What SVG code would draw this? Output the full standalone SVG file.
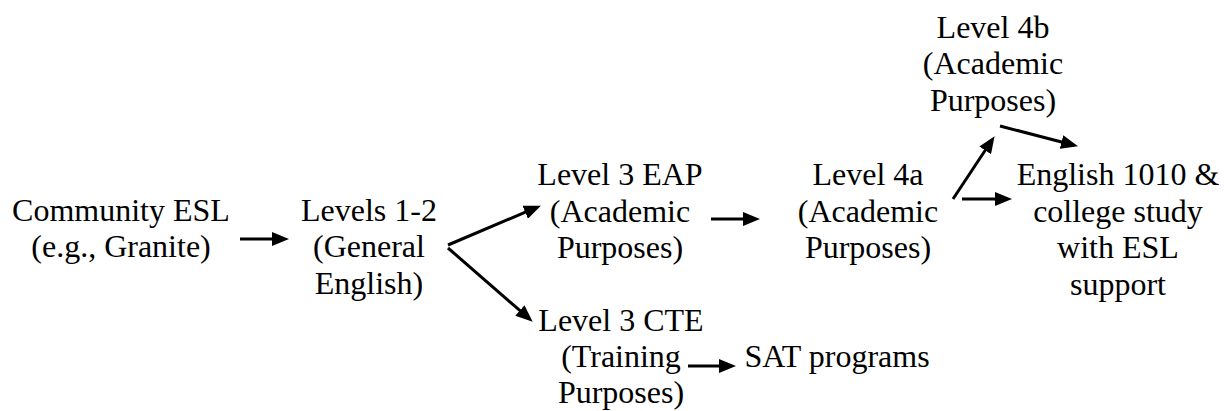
<svg xmlns="http://www.w3.org/2000/svg" width="1227" height="411" viewBox="0 0 1227 411">
  <style>
    text { font-family: "Liberation Serif", "Times New Roman", "DejaVu Serif", serif; font-size: 32px; fill: #000; text-anchor: middle; }
    .conn { stroke: #000; stroke-width: 3; fill: none; marker-end: url(#ah); }
  </style>
  <defs>
    <marker id="ah" viewBox="0 0 17 14" refX="4" refY="7" markerWidth="17" markerHeight="14" markerUnits="userSpaceOnUse" orient="auto">
      <path d="M0,0 L17,7 L0,14 Z" fill="#000"/>
    </marker>
  </defs>
  <rect width="1227" height="411" fill="#fff"/>

  <g font-family="Liberation Serif, serif">
  <g id="community">
    <text x="121" y="221">Community ESL</text>
    <text x="121" y="257">(e.g., Granite)</text>
  </g>
  <g id="levels12">
    <text x="369" y="221">Levels 1-2</text>
    <text x="369" y="257">(General</text>
    <text x="369" y="294">English)</text>
  </g>
  <g id="level3eap">
    <text x="620" y="185">Level 3 EAP</text>
    <text x="620" y="222">(Academic</text>
    <text x="620" y="258">Purposes)</text>
  </g>
  <g id="level4a">
    <text x="868" y="185">Level 4a</text>
    <text x="868" y="222">(Academic</text>
    <text x="868" y="258">Purposes)</text>
  </g>
  <g id="level4b">
    <text x="993" y="37.5">Level 4b</text>
    <text x="993" y="74">(Academic</text>
    <text x="993" y="110.5">Purposes)</text>
  </g>
  <g id="english1010">
    <text x="1118" y="185">English 1010 &amp;</text>
    <text x="1118" y="221.5">college study</text>
    <text x="1118" y="258">with ESL</text>
    <text x="1118" y="294.5">support</text>
  </g>
  <g id="level3cte">
    <text x="621" y="331">Level 3 CTE</text>
    <text x="621" y="367">(Training</text>
    <text x="621" y="403">Purposes)</text>
  </g>
  <g id="sat">
    <text x="837" y="367">SAT programs</text>
  </g>
  </g>

  <g id="connectors">
    <path class="conn" d="M240,239 L276,239"/>
    <path class="conn" d="M448,245 L528.9,210.7"/>
    <path class="conn" d="M448,248 L522.9,313.1"/>
    <path class="conn" d="M711,219 L747,219"/>
    <path class="conn" d="M953,199 L987.4,147"/>
    <path class="conn" d="M962,199 L999,199"/>
    <path class="conn" d="M1000,126 L1065.4,143"/>
    <path class="conn" d="M688,366 L723,366"/>
  </g>
</svg>
